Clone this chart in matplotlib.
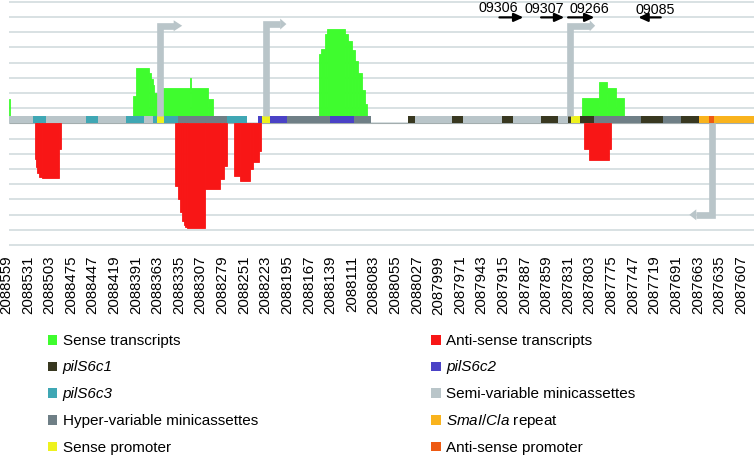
import numpy as np
import matplotlib
matplotlib.use("Agg")
import matplotlib.pyplot as plt
from matplotlib.patches import Polygon, Rectangle

plt.rcParams['font.family'] = ['Liberation Sans', 'DejaVu Sans']
plt.rcParams['mathtext.fontset'] = 'custom'
plt.rcParams['mathtext.it'] = 'Liberation Sans:italic'
plt.rcParams['mathtext.rm'] = 'Liberation Sans'

# genome positions (bp) on the x axis
tick_positions = list(range(2088559, 2087606, -28))

# coloured track along the baseline
track_starts = [2088555, 2088524, 2088507, 2088455, 2088440, 2088404, 2088380, 2088369, 2088364, 2088355, 2088336, 2088273,
                2088233, 2088228, 2088217, 2088195, 2088140, 2088109,
                2088038, 2088029, 2087981, 2087967, 2087917, 2087903, 2087866, 2087844, 2087831, 2087827, 2087816,
                2087798, 2087736, 2087708, 2087685, 2087661, 2087648, 2087642]
track_ends = [2088524, 2088507, 2088455, 2088440, 2088404, 2088380, 2088369, 2088364, 2088355, 2088336, 2088273, 2088247,
              2088228, 2088217, 2088195, 2088140, 2088109, 2088087,
              2088029, 2087981, 2087967, 2087917, 2087903, 2087866, 2087844, 2087831, 2087827, 2087816, 2087798,
              2087736, 2087708, 2087685, 2087661, 2087648, 2087642, 2087589]
track_kinds = ['semi', 'c3', 'semi', 'c3', 'semi', 'c3', 'semi', 'c3', 'sprom', 'c3', 'hyper', 'c3',
               'c2', 'sprom', 'c2', 'hyper', 'c2', 'hyper',
               'c1', 'semi', 'c1', 'semi', 'c1', 'semi', 'c1', 'semi', 'c1', 'sprom', 'c1',
               'hyper', 'c1', 'hyper', 'c1', 'sma', 'aprom', 'sma']

# sense transcript coverage (step edges and levels)
sense_edges = [
    [2088555, 2088554],
    [2088395, 2088391, 2088374, 2088372, 2088369, 2088367, 2088364],
    [2088357, 2088321, 2088320, 2088297, 2088291],
    [2088154, 2088151, 2088146, 2088144, 2088120, 2088116, 2088111, 2088107, 2088103, 2088098, 2088094, 2088091],
    [2087813, 2087791, 2087780, 2087769, 2087759],
]
sense_levels = [
    [1.6],
    [1.82, 3.64, 3.3, 2.9, 2.5, 2.0],
    [2.32, 2.98, 2.32, 1.6],
    [4.56, 4.89, 5.9, 6.2, 5.9, 5.4, 4.8, 4.1, 3.3, 2.2, 1.3],
    [1.66, 2.74, 2.3, 1.66],
]

# anti-sense transcript coverage
anti_edges = [
    [2088522, 2088521, 2088519, 2088516, 2088513, 2088491, 2088488],
    [2088340, 2088336, 2088334, 2088331, 2088329, 2088327, 2088325, 2088301, 2088282, 2088277, 2088273],
    [2088264, 2088256, 2088243, 2088239, 2088232, 2088229],
    [2087811, 2087804, 2087778, 2087776],
]
anti_levels = [
    [-2.35, -2.9, -3.3, -3.55, -3.62, -1.7],
    [-4.1, -5.0, -5.85, -6.4, -6.7, -6.85, -6.91, -4.35, -3.66, -2.8],
    [-3.45, -3.78, -3.0, -2.57, -1.8],
    [-1.69, -2.41, -1.69],
]

# promoter arrows (grey bent arrows)
prom_x = [2088360, 2088222, 2087829, 2087645]
prom_from = [0.46, 0.46, 0.46, 0.0]
prom_level = [6.42, 6.53, 6.42, -6.02]
prom_bend = [2088342, 2088204, 2087803, 2087665]
prom_tip = [2088331, 2088196, 2087796, 2087674]

# gene arrows at the top
gene_names = ['09306', '09307', '09266', '09085']
gene_tail = [2087920, 2087866, 2087831, 2087711]
gene_head = [2087889, 2087836, 2087797, 2087740]
gene_label_x = [2087921, 2087862, 2087804, 2087718]
gene_label_y = [7.63, 7.62, 7.6, 7.52]
gene_arrow_y = 6.97

colors = {
    'sense': '#3ffc2e', 'anti': '#f81616',
    'c1': '#383820', 'c2': '#4a42c6', 'c3': '#3fa7b4',
    'semi': '#b9c5c9', 'hyper': '#6f7f86', 'sma': '#f9b31d',
    'sprom': '#eef21e', 'aprom': '#ee5a12',
}
legend_rows = [
    ('Sense transcripts', 'sense', 'Anti-sense transcripts', 'anti'),
    ('pilS6c1', 'c1', 'pilS6c2', 'c2'),
    ('pilS6c3', 'c3', 'Semi-variable minicassettes', 'semi'),
    ('Hyper-variable minicassettes', 'hyper', r'$\it{SmaI/Cla}$ repeat', 'sma'),
    ('Sense promoter', 'sprom', 'Anti-sense promoter', 'aprom'),
]
italic_labels = ['pilS6c1', 'pilS6c2', 'pilS6c3']

W, H = 754, 456
fig = plt.figure(figsize=(W / 100, H / 100), dpi=100)

# legend drawn in pixel coordinates
lax = fig.add_axes([0, 0, 1, 1])
lax.set_xlim(0, W)
lax.set_ylim(H, 0)
lax.axis('off')
row_y = [340.7, 367.3, 394, 421, 447.7]
for yy, (l1, k1, l2, k2) in zip(row_y, legend_rows):
    for xs, lab, k in [(47.7, l1, k1), (431, l2, k2)]:
        lax.add_patch(Rectangle((xs, yy - 4.8), 9.6, 9.6, color=colors[k], lw=0))
        lax.text(xs + 15, yy, lab, fontsize=11, va='center', ha='left',
                 fontstyle='italic' if lab in italic_labels else 'normal')

ax = fig.add_axes([0, 1 - 250 / H, 1, 250 / H])
ax.patch.set_alpha(0)
xl, xr = 2088567.0, 2087590.2
ax.set_xlim(xl, xr)
ax.set_ylim(-8.27, 8.18)
for s in ax.spines.values():
    s.set_visible(False)
ax.set_yticks([])
ax.set_xticks(tick_positions)
ax.set_xticklabels([str(t) for t in tick_positions], rotation=90, fontsize=10.8)
ax.tick_params(axis='x', length=0, pad=4)

# gridlines
ax.hlines(np.arange(-8, 9), 2088555, xr, color='#d2dcde', lw=1.2, zorder=0)
ax.hlines(0, 2088555, xr, color='#a3adae', lw=0.8, zorder=0.5)

# coverage steps as touching bars
for e, v in zip(sense_edges, sense_levels):
    v = np.array(v)
    ax.bar(e[:-1], v - 0.46, width=np.diff(e), bottom=0.46, align='edge',
           color=colors['sense'], ec=colors['sense'], lw=0.6, zorder=1)
for e, v in zip(anti_edges, anti_levels):
    ax.bar(e[:-1], v, width=np.diff(e), bottom=0, align='edge',
           color=colors['anti'], ec=colors['anti'], lw=0.6, zorder=1)

widths = [e - s for s, e in zip(track_starts, track_ends)]
ax.bar(track_starts, 0.46, width=widths, bottom=0, align='edge',
       color=[colors[k] for k in track_kinds], lw=0, zorder=2)

# promoter arrows
pc = '#b9c5c9'
for x0, y0, yl, xb, xt in zip(prom_x, prom_from, prom_level, prom_bend, prom_tip):
    ax.plot([x0, x0, xb], [y0, yl, yl], color=pc, lw=4.8,
            solid_joinstyle='miter', solid_capstyle='butt', zorder=3)
    ax.add_patch(Polygon([[xb, yl + 0.36], [xt, yl], [xb, yl - 0.36]],
                         closed=True, color=pc, lw=0, zorder=3))

# gene arrows
for name, xt, xh, lx, ly in zip(gene_names, gene_tail, gene_head, gene_label_x, gene_label_y):
    ax.annotate('', xy=(xh, gene_arrow_y), xytext=(xt, gene_arrow_y),
                arrowprops=dict(arrowstyle='-|>,head_length=0.55,head_width=0.25',
                                color='black', lw=1.6, shrinkA=0, shrinkB=0), zorder=4)
    ax.text(lx, ly, name, fontsize=10.3, ha='center', va='center', zorder=4)

fig.savefig('out.png', dpi=100)
